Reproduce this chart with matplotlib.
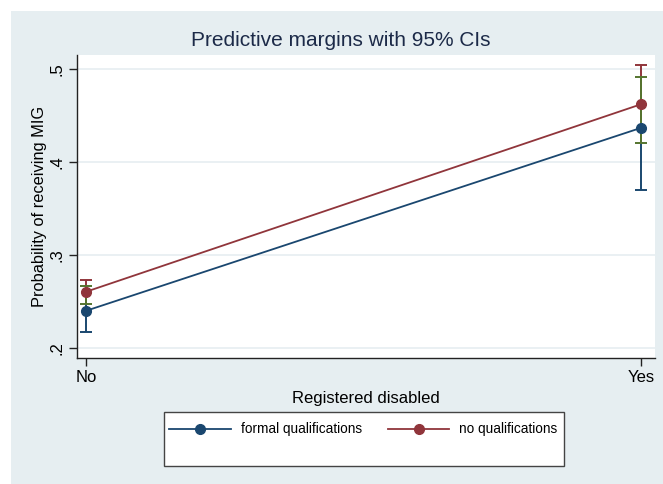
import matplotlib
matplotlib.use("Agg")
import matplotlib.pyplot as plt
from matplotlib.patches import Rectangle

# ---- data ----
categories = ["No", "Yes"]
series_names = ["formal qualifications", "no qualifications"]
formal = [0.240, 0.437]
formal_lo = [0.2175, 0.370]
formal_hi = [0.267, 0.492]
noqual = [0.2605, 0.4624]
noqual_lo = [0.247, 0.421]
noqual_hi = [0.273, 0.5045]
yticks = [0.2, 0.3, 0.4, 0.5]
ytick_labels = [".2", ".3", ".4", ".5"]

NAVY = "#1a476f"
MAROON = "#90353b"
GREEN = "#55752f"
BG = "#e6eef1"
GRID = "#e6eef1"

plt.rcParams['font.family'] = ['Liberation Sans', 'DejaVu Sans']

W, H = 663, 484
fig = plt.figure(figsize=(W / 100, H / 100), dpi=100)
fig.patch.set_facecolor("white")
fig.patches.append(Rectangle((11 / W, 0), 1 - 11 / W, 1 - 11 / H, transform=fig.transFigure,
                             facecolor=BG, edgecolor="none", zorder=-5))

L, R, T, B = 77, 655, 55, 358
ax = fig.add_axes([L / W, 1 - B / H, (R - L) / W, (B - T) / H])
ax.set_zorder(3)
ax.set_facecolor("white")

x = list(range(len(categories)))
cap = 0.011

# confidence intervals
for i in x:
    ax.vlines(i, formal_lo[i], formal_hi[i], color=NAVY, lw=1.4, zorder=2)
    ax.vlines(i, noqual_lo[i], noqual_hi[i], color=MAROON, lw=1.4, zorder=2)
    olo = max(formal_lo[i], noqual_lo[i])
    ohi = min(formal_hi[i], noqual_hi[i])
    if ohi > olo:
        ax.vlines(i, olo, ohi, color=GREEN, lw=1.4, zorder=3)
    for v, lo_s, hi_s, col in [(formal_lo[i], noqual_lo[i], noqual_hi[i], NAVY),
                               (formal_hi[i], noqual_lo[i], noqual_hi[i], NAVY),
                               (noqual_lo[i], formal_lo[i], formal_hi[i], MAROON),
                               (noqual_hi[i], formal_lo[i], formal_hi[i], MAROON)]:
        c = GREEN if lo_s <= v <= hi_s else col
        ax.hlines(v, i - cap, i + cap, color=c, lw=1.4, zorder=3)

l1, = ax.plot(x, formal, color=NAVY, lw=1.3, marker="o", ms=7, zorder=4,
              label=series_names[0])
l2, = ax.plot(x, noqual, color=MAROON, lw=1.3, marker="o", ms=7, zorder=4,
              label=series_names[1])

ax.set_xlim(-0.0162, 1.025)
ax.set_ylim(0.1892, 0.5154)
ax.set_xticks(x)
ax.set_xticklabels(categories, fontsize=12)
ax.set_yticks(yticks)
ax.set_yticklabels(ytick_labels, fontsize=12, rotation=90, va="center")
ax.yaxis.grid(True, color=GRID, lw=1.2)
ax.set_axisbelow(True)
for s in ["top", "right"]:
    ax.spines[s].set_visible(False)
for s in ["left", "bottom"]:
    ax.spines[s].set_color("#222222")
    ax.spines[s].set_linewidth(1.0)
ax.tick_params(axis="both", length=6, width=1.0, color="#222222", pad=3, labelcolor="black")

ax.set_ylabel("Probability of receiving MIG", fontsize=11.8, va="center")
ax.yaxis.set_label_coords((40 - L) / (R - L), 0.5)
ax.set_xlabel("Registered disabled", fontsize=12, labelpad=4)

fig.text(341 / W, 1 - 40 / H, "Predictive margins with 95% CIs", fontsize=15,
         color="#1c2a48", ha="center", va="center")

# legend box
fig.patches.append(Rectangle((164 / W, 1 - 466 / H), 400 / W, 54 / H, transform=fig.transFigure,
                             facecolor="white", edgecolor="#444444", lw=1.0, zorder=1))
leg = fig.legend(handles=[l1, l2], labels=series_names, loc="upper left",
                 bbox_to_anchor=(164 / W, 1 - 417 / H), ncol=2, frameon=False,
                 fontsize=9.8, handlelength=4.5, handletextpad=0.75, columnspacing=1.9,
                 borderaxespad=0, borderpad=0.4)
leg.set_zorder(6)

fig.savefig("out.png", dpi=100)
